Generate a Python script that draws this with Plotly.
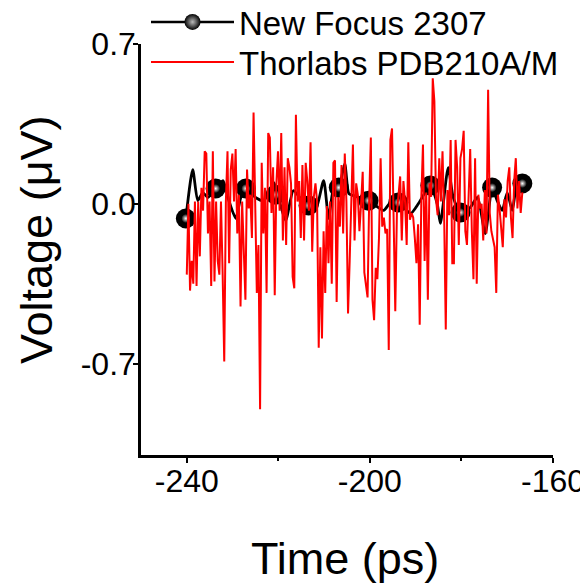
import numpy as np
import plotly.graph_objects as go

# ---- data ----
nf_time = [-240.2, -238.7, -237.6, -236.5, -235.4, -233.7, -232.1, -230.8, -229.3, -228.2,
           -227.1, -225.0, -223.2, -221.0, -220.2, -218.4, -216.7, -214.5, -213.4, -211.9,
           -210.1, -209.0, -207.9, -206.8, -205.5, -204.6, -203.6, -200.3, -197.0, -195.5,
           -193.8, -191.1, -189.4, -186.8, -185.3, -184.6, -182.9, -181.8, -180.2, -178.1,
           -176.5, -174.8, -173.3, -172.2, -171.1, -170.0, -168.9, -167.8, -166.7]
nf_volt = [-0.064, 0.150, 0.014, 0.049, 0.028, 0.067, 0.102, 0.014, -0.064, 0.028,
           0.067, 0.028, 0.014, 0.093, 0.045, -0.073, 0.058, 0.006, -0.007, -0.029,
           0.102, -0.064, 0.067, 0.071, 0.176, 0.045, 0.036, 0.014, -0.029, 0.006,
           0.006, -0.042, 0.001, 0.080, 0.001, -0.086, 0.159, 0.028, -0.038, -0.016,
           0.028, -0.130, 0.071, 0.014, -0.029, 0.049, -0.029, 0.089, 0.089]

nf_marker_time = [-240.2, -233.7, -227.1, -220.6, -213.4, -206.8, -200.3, -193.8,
                  -186.8, -180.2, -173.3, -166.7]
nf_marker_volt = [-0.064, 0.067, 0.067, 0.040, -0.007, 0.071, 0.014, 0.006,
                  0.080, -0.038, 0.071, 0.089]

th_volt = [
    -0.31, 0.00, -0.38, -0.25, -0.35, 0.01, -0.36, 0.01, -0.23, 0.07,
    -0.03, 0.23, 0.22, -0.13, 0.01, -0.36, 0.23, -0.34, 0.01, -0.25,
    -0.31, 0.01, -0.30, -0.69, 0.01, 0.23, -0.26, 0.15, 0.22, 0.01,
    0.24, -0.13, 0.04, -0.45, 0.01, -0.18, -0.42, 0.15, -0.02, 0.04,
    -0.15, 0.40, 0.01, -0.39, -0.18, -0.90, 0.18,
    -0.13, 0.07, -0.39, 0.31, 0.29, -0.04, 0.16, -0.40, 0.09, 0.23,
    -0.03, 0.31, -0.16, 0.16, -0.18, 0.20, 0.16, 0.09, -0.32, -0.37,
    0.39, 0.01, 0.10, -0.15, 0.17, -0.16, 0.18, 0.10, -0.03, 0.27,
    -0.21, 0.03, 0.09, 0.01, -0.63, -0.19, -0.59, -0.12, -0.39, -0.01,
    -0.26, 0.01, -0.35, 0.18, 0.19, -0.43, 0.03, -0.10, 0.17, -0.13,
    0.22, 0.01, -0.48, -0.25,
    0.03, 0.26, -0.16, 0.09, 0.04, -0.12, 0.00, 0.14, -0.30, -0.37,
    -0.41, 0.02, 0.29, -0.42, -0.51, -0.28, -0.33, -0.15, 0.20, -0.10,
    -0.06, -0.13, -0.11, -0.64, 0.28, 0.33, 0.00, -0.47, -0.04, 0.03,
    0.12, -0.16, 0.10, 0.01, -0.18, 0.27, -0.07, -0.04, -0.06, -0.15,
    -0.26, -0.09, -0.53, 0.03, 0.26, -0.25, 0.05, -0.42, 0.09, 0.03,
    0.55,
    0.45, 0.02, -0.05, 0.20, 0.01, 0.23, -0.05, -0.55, 0.06, -0.05,
    0.28, -0.26, -0.26, 0.28, 0.16, -0.18, 0.20, 0.24, 0.32, -0.12,
    -0.18, 0.04, 0.24, -0.12, -0.33, 0.20, -0.35, 0.04, -0.02, 0.00,
    -0.16, 0.06, -0.13, 0.50, -0.04, -0.12, -0.15, -0.19, -0.39, 0.04,
    -0.02, -0.13, -0.19, 0.02, -0.06, 0.10, 0.16, -0.06, -0.15, 0.10,
    0.20, -0.02, 0.10, -0.04, 0.05]
th_time_start = -240.0
th_time_end = -166.7
th_time = np.linspace(th_time_start, th_time_end, len(th_volt))

x_tickvals = [-240, -200, -160]
x_ticktext = ["-240", "-200", "-160"]
x_minor = [-220, -180]
y_tickvals = [-0.7, 0.0, 0.7]
y_ticktext = ["-0.7", "0.0", "0.7"]
x_title = "Time (ps)"
y_title = "Voltage (μV)"

FONT = "Arial, Liberation Sans, sans-serif"
W, H = 580, 579  # page body adds an 8px offset inside the 588x587 window
ML, MR, MT = 133, 35, 36
MB = H - 447
PW, PH = W - ML - MR, H - MT - MB

fig = go.Figure()
# legend entry for New Focus (line + sphere marker)
fig.add_trace(go.Scatter(
    x=[None], y=[None], mode="lines+markers", name="New Focus 2307",
    line=dict(color="black", width=2.5),
    marker=dict(size=18, color="black", gradient=dict(type="radial", color="#bbbbbb"),
                line=dict(width=0)),
    legend="legend",
))
fig.add_trace(go.Scatter(
    x=nf_time, y=nf_volt, mode="lines", showlegend=False,
    line=dict(color="black", width=2.8, shape="spline", smoothing=0.6),
))
fig.add_trace(go.Scatter(
    x=nf_marker_time, y=nf_marker_volt, mode="markers", showlegend=False,
    marker=dict(size=20, color="black", line=dict(width=0)),
))
fig.add_trace(go.Scatter(
    x=nf_marker_time, y=nf_marker_volt, mode="markers", showlegend=False,
    marker=dict(size=9, color="black", gradient=dict(type="radial", color="white"),
                line=dict(width=0)),
))
fig.add_trace(go.Scatter(
    x=th_time, y=th_volt, mode="lines", name="Thorlabs PDB210A/M",
    line=dict(color="#ff0000", width=2.0),
    legend="legend2",
))

leg_common = dict(
    xref="container", yref="container", xanchor="left", yanchor="middle",
    bgcolor="rgba(0,0,0,0)", borderwidth=0,
    font=dict(size=33, family=FONT, color="black"),
    itemwidth=83,
)
fig.update_layout(
    width=W, height=H,
    margin=dict(l=ML, r=MR, t=MT, b=MB, autoexpand=False),
    paper_bgcolor="white", plot_bgcolor="white",
    font=dict(family=FONT, color="black"),
    showlegend=True,
    legend=dict(x=138 / W, y=1 - 14 / H, **leg_common),
    legend2=dict(x=138 / W, y=1 - 54 / H, **leg_common),
    annotations=[
        dict(text=x_title, xref="paper", yref="paper",
             x=(337 - ML) / PW, y=(447 - 550) / PH, xanchor="center", yanchor="middle",
             showarrow=False, font=dict(size=45, family=FONT, color="black")),
        dict(text=y_title, xref="paper", yref="paper", textangle=-90,
             x=(28 - ML) / PW, y=(447 - 232) / PH, xanchor="center", yanchor="middle",
             showarrow=False, font=dict(size=45, family=FONT, color="black")),
    ],
)
fig.update_xaxes(
    range=[-250, -160], showgrid=False, zeroline=False,
    showline=True, linecolor="black", linewidth=2.5,
    ticks="outside", ticklen=5, tickwidth=2, tickcolor="black",
    tickvals=x_tickvals, ticktext=x_ticktext, ticklabelstandoff=-9,
    tickfont=dict(size=32, family=FONT),
    minor=dict(tickvals=x_minor, ticks="outside", ticklen=3, tickwidth=2, tickcolor="black"),
)
fig.update_yaxes(
    range=[-1.1, 0.7], showgrid=False, zeroline=False,
    showline=True, linecolor="black", linewidth=2.5,
    ticks="outside", ticklen=5, tickwidth=2, tickcolor="black",
    tickvals=y_tickvals, ticktext=y_ticktext, ticklabelstandoff=-9,
    tickfont=dict(size=32, family=FONT),
)

fig.write_html("out.html")
